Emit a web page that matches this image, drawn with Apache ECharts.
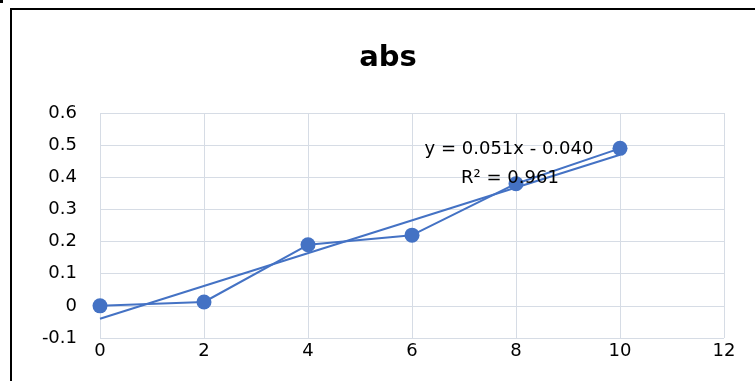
<!DOCTYPE html>
<html>
<head>
<meta charset="utf-8">
<script src="https://cdn.jsdelivr.net/npm/echarts@6/dist/echarts.min.js"></script>
<style>
  html, body { margin: 0; padding: 0; background: #fff; }
  #chart { width: 755px; height: 381px; }
</style>
</head>
<body>
<div id="chart"></div>
<script>
// Measured absorbance at each concentration
const concentrations = [0, 2, 4, 6, 8, 10];
const absorbance = [0, 0.012, 0.19, 0.22, 0.38, 0.49];

// Linear fit reported on the chart
const fitSlope = 0.051;
const fitIntercept = -0.040;
const fitR2 = 0.961;
const fitRange = [0, 10];

const xTicks = { min: 0, max: 12, step: 2 };
const yTicks = { min: -0.1, max: 0.6, step: 0.1 };

const pointData = concentrations.map((x, i) => [x, absorbance[i]]);
const fitData = fitRange.map(x => [x, fitSlope * x + fitIntercept]);

const fmt = v => String(Number(v.toFixed(1)));
const eqText = 'y = ' + fitSlope.toFixed(3) + 'x - ' + Math.abs(fitIntercept).toFixed(3);
const r2Text = 'R² = ' + fitR2.toFixed(3);

const FONT = 'DejaVu Sans';
const BLUE = '#4472C4';
const GRID = '#d6dce5';

const chart = echarts.init(document.getElementById('chart'), null, { renderer: 'canvas' });
chart.setOption({
  backgroundColor: '#ffffff',
  animation: false,
  grid: { left: 100, right: 31, top: 113, bottom: 43 },
  xAxis: {
    type: 'value',
    min: xTicks.min, max: xTicks.max, interval: xTicks.step,
    axisLine: { show: false },
    axisTick: { show: false },
    splitLine: { show: true, lineStyle: { color: GRID, width: 1 } },
    axisLabel: { color: '#000', fontFamily: FONT, fontSize: 18, margin: 4, formatter: fmt }
  },
  yAxis: {
    type: 'value',
    min: yTicks.min, max: yTicks.max, interval: yTicks.step,
    axisLine: { show: false },
    axisTick: { show: false },
    splitLine: { show: true, lineStyle: { color: GRID, width: 1 } },
    axisLabel: { color: '#000', fontFamily: FONT, fontSize: 18, margin: 23, formatter: fmt }
  },
  series: [
    {
      name: 'fit',
      type: 'line',
      data: fitData,
      symbol: 'none',
      lineStyle: { color: BLUE, width: 2 },
      z: 2
    },
    {
      name: 'abs',
      type: 'line',
      data: pointData,
      symbol: 'circle',
      symbolSize: 15,
      itemStyle: { color: BLUE },
      lineStyle: { color: BLUE, width: 2 },
      z: 3
    }
  ],
  graphic: [
    {
      type: 'rect',
      shape: { x: 11, y: 9, width: 800, height: 400 },
      style: { fill: 'none', stroke: '#000', lineWidth: 2 },
      silent: true
    },
    {
      type: 'rect',
      shape: { x: 0, y: 0, width: 3, height: 3 },
      style: { fill: '#000' },
      silent: true
    },
    {
      type: 'text',
      x: 388, y: 58,
      style: {
        text: 'abs', fill: '#000', font: 'bold 29px ' + FONT,
        textAlign: 'center', textVerticalAlign: 'middle'
      },
      z: 10
    },
    {
      type: 'text',
      x: 509, y: 149,
      style: {
        text: eqText, fill: '#000', font: '18px ' + FONT,
        textAlign: 'center', textVerticalAlign: 'middle'
      },
      z: 10
    },
    {
      type: 'text',
      x: 510, y: 178,
      style: {
        text: r2Text, fill: '#000', font: '18px ' + FONT,
        textAlign: 'center', textVerticalAlign: 'middle'
      },
      z: 10
    }
  ]
});
</script>
</body>
</html>
